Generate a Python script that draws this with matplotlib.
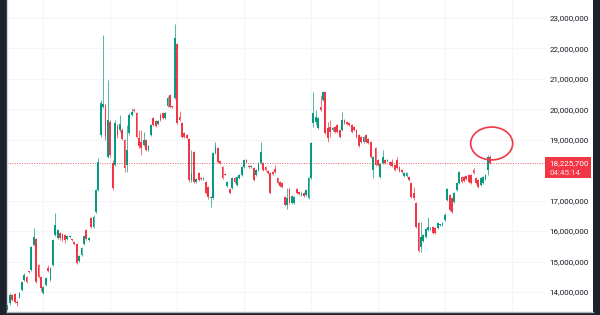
import matplotlib
matplotlib.use("Agg")
import matplotlib.pyplot as plt
from matplotlib.patches import Ellipse, Rectangle
import matplotlib.transforms as mtransforms
import numpy as np

# candle data, prices in millions
opens = [
    13.41, 13.64, 13.90, 13.93, 13.67, 13.83, 14.06, 14.39, 14.49, 14.66,
    14.72, 15.54, 15.74, 14.88, 14.49, 13.96, 14.23, 14.79, 14.39, 14.88,
    15.87, 15.77, 15.93, 15.90, 15.87, 15.74, 15.80, 15.71, 15.64, 15.57,
    15.02, 15.21, 15.57, 16.04, 15.71, 16.43, 16.13, 16.63, 17.35, 19.16,
    20.08, 20.14, 18.43, 19.58, 18.24, 18.17, 19.45, 19.32, 19.32, 18.99,
    18.17, 19.22, 19.81, 19.98, 19.88, 19.06, 18.93, 18.83, 18.99, 18.66,
    19.16, 19.71, 19.61, 19.52, 19.81, 19.88, 19.71, 20.11, 20.47, 20.08,
    20.37, 22.15, 19.75, 19.55, 19.22, 19.16, 19.02, 17.68, 18.60, 17.61,
    17.91, 17.74, 17.71, 17.61, 17.45, 17.09, 17.09, 18.56, 18.73, 18.30,
    18.11, 17.87, 17.48, 17.38, 17.41, 17.74, 17.51, 17.74, 17.84, 18.10,
    18.33, 18.14, 18.10, 18.07, 17.84, 18.01, 18.24, 18.24, 18.10, 17.97,
    17.91, 17.94, 18.04, 17.74, 17.61, 17.58, 17.12, 16.86, 17.38, 16.92,
    16.92, 17.38, 17.28, 17.18, 17.25, 17.18, 17.09, 17.74, 19.55, 19.58,
    19.39, 20.08, 20.31, 20.57, 19.39, 19.42, 19.32, 19.42, 19.48, 19.32,
    19.32, 19.65, 19.58, 19.55, 19.48, 19.42, 19.32, 19.16, 19.09, 18.93,
    19.16, 19.02, 18.93, 18.01, 18.73, 18.33, 17.78, 18.24, 18.33, 18.30,
    18.27, 18.27, 18.17, 18.33, 18.10, 18.01, 17.81, 17.81, 17.78, 17.58,
    17.25, 16.92, 16.27, 15.48, 15.67, 15.80, 16.04, 16.07, 16.13, 16.10,
    16.10, 16.20, 16.20, 16.36, 17.02, 17.18, 17.09, 16.95, 17.35, 17.58,
    17.78, 17.78, 17.81, 17.84, 17.84, 18.01, 17.74, 17.68, 17.51, 17.58,
    17.71, 18.01, 18.43,
]
closes = [
    13.57, 13.90, 13.74, 13.67, 13.64, 13.96, 14.33, 14.56, 14.33, 14.64,
    15.48, 15.80, 14.33, 14.49, 14.13, 14.16, 14.46, 14.69, 14.79, 15.71,
    16.20, 16.04, 15.77, 15.71, 15.71, 15.84, 15.83, 15.69, 15.57, 14.95,
    15.18, 15.44, 15.84, 15.74, 15.77, 16.13, 16.46, 17.35, 18.27, 20.21,
    20.17, 19.12, 19.65, 18.50, 17.41, 19.55, 19.16, 19.52, 19.02, 18.07,
    18.66, 19.81, 19.91, 19.94, 19.09, 18.79, 18.73, 18.99, 18.66, 18.79,
    19.48, 19.48, 19.45, 19.61, 19.65, 19.71, 19.88, 20.37, 20.08, 20.06,
    22.34, 19.55, 19.65, 19.09, 19.09, 19.06, 17.68, 17.91, 17.61, 17.71,
    17.68, 17.71, 17.74, 17.25, 17.12, 17.12, 18.56, 18.76, 18.27, 18.24,
    17.74, 17.85, 17.61, 17.25, 17.74, 17.61, 17.78, 17.84, 18.10, 18.33,
    18.27, 18.10, 18.14, 17.68, 18.01, 18.24, 18.60, 18.01, 18.01, 17.91,
    17.25, 17.87, 17.94, 17.58, 17.48, 17.45, 16.86, 17.09, 16.92, 17.15,
    17.12, 17.25, 17.22, 17.25, 17.15, 17.35, 17.74, 18.89, 19.88, 19.75,
    19.71, 19.98, 20.57, 19.22, 19.06, 19.25, 19.39, 19.25, 19.25, 19.09,
    19.65, 19.55, 19.52, 19.48, 19.25, 19.32, 19.09, 18.79, 18.93, 19.09,
    18.93, 18.89, 18.43, 18.43, 18.17, 18.17, 18.20, 18.43, 18.24, 18.33,
    18.17, 18.14, 18.01, 18.07, 17.97, 17.94, 17.91, 17.91, 17.68, 17.12,
    17.09, 16.13, 15.35, 15.80, 15.87, 16.07, 16.13, 16.10, 15.93, 15.93,
    16.27, 16.22, 16.27, 16.53, 17.38, 16.69, 16.63, 17.25, 17.58, 17.94,
    17.61, 17.64, 17.71, 17.61, 17.58, 17.91, 17.58, 17.45, 17.74, 17.78,
    17.84, 18.43, 18.2257,
]
highs = [
    13.64, 13.96, 13.93, 13.96, 13.74, 14.00, 14.36, 14.62, 14.52, 14.69,
    15.51, 16.10, 15.77, 14.92, 14.52, 14.20, 14.49, 14.88, 14.82, 15.74,
    16.59, 16.07, 15.97, 15.93, 15.90, 15.87, 15.87, 15.74, 15.67, 15.61,
    15.21, 15.48, 15.87, 16.07, 15.80, 16.46, 16.53, 17.38, 18.40, 20.31,
    22.44, 20.17, 20.96, 19.65, 18.33, 19.65, 19.52, 19.81, 19.39, 19.02,
    19.48, 19.88, 20.04, 20.04, 19.91, 19.32, 19.32, 19.25, 19.02, 18.83,
    19.52, 19.75, 19.65, 19.65, 19.88, 19.91, 19.91, 20.44, 20.50, 20.11,
    22.80, 22.18, 19.94, 19.58, 19.25, 19.19, 19.06, 18.66, 18.63, 17.74,
    17.94, 17.78, 17.78, 17.64, 17.48, 17.15, 18.60, 18.93, 18.76, 18.33,
    18.14, 17.91, 17.64, 17.41, 17.78, 17.78, 17.81, 17.87, 18.14, 18.37,
    18.37, 18.17, 18.17, 18.10, 18.04, 18.27, 18.93, 18.27, 18.14, 18.01,
    17.94, 17.97, 18.17, 17.78, 17.64, 17.61, 17.15, 17.41, 17.41, 17.18,
    17.15, 17.41, 17.31, 17.28, 17.28, 17.38, 17.78, 18.93, 20.57, 19.98,
    19.75, 20.47, 20.60, 20.60, 19.58, 19.65, 19.42, 19.45, 19.52, 19.35,
    19.91, 19.68, 19.61, 19.58, 19.52, 19.45, 19.35, 19.19, 19.12, 19.12,
    19.19, 19.06, 18.96, 18.47, 18.76, 18.37, 18.24, 18.66, 18.37, 18.37,
    18.30, 18.37, 18.20, 18.43, 18.14, 18.04, 17.94, 17.94, 17.81, 17.61,
    17.45, 16.95, 16.30, 16.30, 15.90, 16.10, 16.46, 16.13, 16.17, 16.13,
    16.30, 16.23, 16.30, 16.59, 17.41, 17.22, 17.12, 17.28, 17.61, 17.97,
    17.81, 17.81, 17.84, 17.87, 17.87, 18.07, 17.78, 17.71, 17.78, 17.81,
    17.87, 18.50, 18.50,
]
lows = [
    13.28, 13.57, 13.70, 13.64, 13.54, 13.80, 14.03, 14.36, 14.29, 14.62,
    14.69, 15.51, 14.29, 14.46, 14.03, 13.93, 14.20, 14.65, 14.36, 14.85,
    15.84, 15.74, 15.71, 15.67, 15.61, 15.71, 15.77, 15.67, 15.54, 14.92,
    14.98, 15.18, 15.54, 15.71, 15.67, 16.10, 16.10, 16.59, 17.32, 19.09,
    20.04, 18.99, 18.40, 18.43, 17.35, 18.14, 19.06, 19.25, 18.99, 17.94,
    17.94, 19.16, 19.78, 19.91, 19.06, 18.73, 18.50, 18.79, 18.63, 18.63,
    19.12, 19.45, 19.42, 19.48, 19.61, 19.68, 19.68, 20.08, 20.04, 20.04,
    20.34, 19.52, 19.61, 19.06, 19.06, 19.02, 17.61, 17.61, 17.58, 17.58,
    17.64, 17.68, 17.68, 17.22, 17.05, 16.79, 17.05, 18.53, 18.24, 18.20,
    17.71, 17.84, 17.45, 17.22, 17.38, 17.58, 17.48, 17.71, 17.81, 18.07,
    18.24, 18.07, 18.07, 17.64, 17.81, 17.97, 18.20, 17.97, 17.97, 17.87,
    17.22, 17.84, 17.91, 17.54, 17.45, 17.41, 16.82, 16.73, 16.89, 16.89,
    16.89, 17.22, 17.18, 17.15, 17.12, 17.15, 17.05, 17.71, 19.42, 19.48,
    19.35, 19.94, 20.27, 19.19, 18.93, 19.09, 19.29, 19.22, 19.22, 19.06,
    19.29, 19.52, 19.48, 19.45, 19.22, 19.29, 19.06, 18.76, 18.89, 18.89,
    18.89, 18.86, 18.40, 17.74, 18.14, 18.14, 17.74, 18.20, 18.20, 18.27,
    18.14, 18.10, 17.97, 18.04, 17.94, 17.91, 17.78, 17.78, 17.64, 17.09,
    17.02, 16.10, 15.31, 15.31, 15.64, 15.77, 16.00, 16.04, 15.90, 15.90,
    16.07, 16.17, 16.17, 16.33, 16.99, 16.66, 16.59, 16.92, 17.32, 17.54,
    17.58, 17.61, 17.68, 17.58, 17.54, 17.87, 17.54, 17.41, 17.48, 17.54,
    17.68, 17.84, 18.20,
]

tick_values = [14, 15, 16, 17, 19, 20, 21, 22, 23]
tick_labels = ["14,000,000", "15,000,000", "16,000,000", "17,000,000",
               "19,000,000", "20,000,000", "21,000,000", "22,000,000",
               "23,000,000"]
last_price = 18225700
last_label = "18,225,700"
countdown = "04:45:14"

up_color = "#089981"
down_color = "#f23645"
text_color = "#131722"
grid_color = "#f3f5f9"

o = np.array(opens) * 1e6
c = np.array(closes) * 1e6
h = np.array(highs) * 1e6
l = np.array(lows) * 1e6
x = np.arange(len(o))

fig = plt.figure(figsize=(6, 3.15), dpi=100, facecolor="#1e222d")
ax = fig.add_axes([7 / 600, 3 / 315, 586 / 600, 312 / 315])
ax.set_facecolor("white")

ax.set_xlim(-0.2, len(o) + 42)
ax.set_ylim(13.341e6, 23.591e6)

# faint grid, stopping before the price scale
chart_end = 0.918
for t in tick_values:
    ax.axhline(t * 1e6, xmax=chart_end, color=grid_color, lw=0.8, zorder=0)
for gx in range(15, 224, 28):
    ax.axvline(gx, color=grid_color, lw=0.8, zorder=0)

colors = np.where(c >= o, up_color, down_color)
ax.vlines(x, l, h, colors=colors, lw=0.7, alpha=0.7, zorder=2)
body_low = np.minimum(o, c)
body_h = np.maximum(np.abs(c - o), 35000)
ax.bar(x, body_h, bottom=body_low, width=0.75, color=colors, linewidth=0, zorder=3)

# current price line and label
ax.axhline(last_price, xmax=chart_end, color=down_color, lw=0.7,
           ls=(0, (1, 1.5)), alpha=0.8, zorder=1)
trans = mtransforms.blended_transform_factory(ax.transAxes, ax.transData)
ax.add_patch(Rectangle((0.918, last_price - 0.49e6), 0.079, 0.70e6,
                       transform=trans, color=down_color, zorder=4, lw=0))
ax.text(0.925, last_price, last_label, transform=trans, ha="left", va="center",
        color="white", fontsize=5.8, family="Roboto", zorder=5)
ax.text(0.925, last_price - 0.33e6, countdown, transform=trans, ha="left",
        va="center", color="#ffe0e3", fontsize=5.8, family="Roboto", zorder=5)

# highlight circle around last candles
ax.add_patch(Ellipse((202.6, 18.877e6), 17.6, 1.08e6, fill=False,
                     edgecolor=down_color, lw=1.2, zorder=6))

ax.yaxis.tick_right()
ax.set_yticks([t * 1e6 for t in tick_values])
ax.set_yticklabels(tick_labels)
ax.tick_params(axis="y", length=0, pad=-2.9, labelsize=5.8, labelcolor=text_color)
for lbl in ax.get_yticklabels():
    lbl.set_horizontalalignment("right")
    lbl.set_family("Roboto")
ax.set_xticks([])

for side in ["top", "right"]:
    ax.spines[side].set_visible(False)
ax.spines["left"].set_color("#d1d4dc")
ax.spines["bottom"].set_color("#b2b5be")
ax.spines["left"].set_linewidth(1.0)
ax.spines["bottom"].set_linewidth(1.0)

fig.savefig("out.png", dpi=100, facecolor=fig.get_facecolor())
